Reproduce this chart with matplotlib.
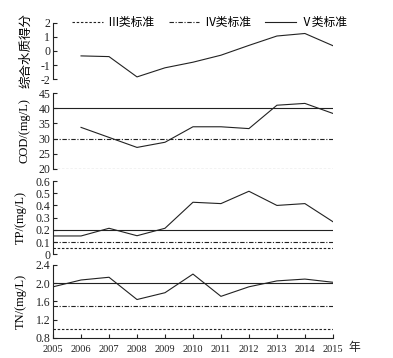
import numpy as np
import matplotlib.pyplot as plt

plt.rcParams['font.family'] = ['Liberation Serif', 'Noto Sans CJK SC']
plt.rcParams['axes.unicode_minus'] = False

years = list(range(2005, 2016))
score_years = list(range(2006, 2016))
score = [-0.35, -0.4, -1.85, -1.2, -0.8, -0.3, 0.4, 1.07, 1.25, 0.38]
cod_years = list(range(2006, 2016))
cod = [33.7, 30.4, 27.1, 28.8, 33.9, 33.9, 33.3, 41.0, 41.6, 38.3]
tp = [0.15, 0.15, 0.213, 0.152, 0.213, 0.426, 0.415, 0.516, 0.40, 0.415, 0.267]
tn = [1.92, 2.07, 2.13, 1.64, 1.79, 2.2, 1.71, 1.92, 2.05, 2.09, 2.02]

std_cod = [20, 30, 40]
std_tp = [0.05, 0.1, 0.2]
std_tn = [1.0, 1.5, 2.0]
std_names = ['Ⅲ类标准', 'Ⅳ类标准', 'Ⅴ类标准']
std_styles = [(0, (2.2, 1.6)), (0, (4, 1.5, 1, 1.5)), '-']

col = '#222222'
lw = 0.8

fig = plt.figure(figsize=(3.93, 3.58), dpi=100)
L, R = 0.135, 0.847
boxes = [(0.7793, 0.9358), (0.528, 0.740), (0.2897, 0.4944), (0.0567, 0.2598)]
axs = [fig.add_axes([L, b, R - L, t - b]) for b, t in boxes]

for ax in axs:
    ax.set_xlim(2005, 2015)
    for s in ['top', 'right', 'bottom']:
        ax.spines[s].set_visible(False)
    ax.spines['left'].set_linewidth(lw)
    ax.spines['left'].set_color(col)
    ax.tick_params(direction='in', length=3, width=lw, colors=col, labelsize=8.5, pad=2)
    ax.tick_params(axis='x', bottom=False, labelbottom=False)

ax1, ax2, ax3, ax4 = axs
ax1.plot(score_years, score, color=col, lw=lw)
ax1.set_ylim(-2, 2)
ax1.set_yticks([-2, -1, 0, 1, 2])
ax1.set_ylabel('综合水质得分', fontsize=9, labelpad=6)
handles = [ax1.plot([], [], color=col, lw=lw, ls=ls)[0] for ls in std_styles]
ax1.legend(handles, std_names, ncol=3, frameon=False, loc='center',
           bbox_to_anchor=(0.56, 1.0), fontsize=8.5, handlelength=2.6,
           columnspacing=1.2, handletextpad=0.4, borderaxespad=0)

ax2.plot(cod_years, cod, color=col, lw=lw)
for v, ls in zip(std_cod, std_styles):
    ax2.axhline(v, color=col, lw=lw, ls=ls)
ax2.set_ylim(20, 45)
ax2.set_yticks(range(20, 46, 5))
ax2.set_ylabel('COD/(mg/L)', fontsize=9, labelpad=6)

ax3.plot(years, tp, color=col, lw=lw)
for v, ls in zip(std_tp, std_styles):
    ax3.axhline(v, color=col, lw=lw, ls=ls)
ax3.set_ylim(0, 0.6)
ax3.set_yticks(np.arange(0, 0.61, 0.1))
ax3.set_yticklabels(['0', '0.1', '0.2', '0.3', '0.4', '0.5', '0.6'])
ax3.set_ylabel('TP/(mg/L)', fontsize=9, labelpad=6)

ax4.plot(years, tn, color=col, lw=lw)
for v, ls in zip(std_tn, std_styles):
    ax4.axhline(v, color=col, lw=lw, ls=ls)
ax4.set_ylim(0.8, 2.4)
ax4.set_yticks([0.8, 1.2, 1.6, 2.0, 2.4])
ax4.set_yticklabels(['0.8', '1.2', '1.6', '2.0', '2.4'])
ax4.set_ylabel('TN/(mg/L)', fontsize=9, labelpad=6)
ax4.spines['bottom'].set_visible(True)
ax4.spines['bottom'].set_linewidth(lw)
ax4.spines['bottom'].set_color(col)
ax4.tick_params(axis='x', bottom=True, labelbottom=True, labelsize=7.5, pad=5)
ax4.set_xticks(years)
ax4.set_xticklabels([str(y) for y in years])
ax4.text(1.057, -0.06, '年', transform=ax4.transAxes, fontsize=8.5,
         va='top', ha='left', color=col)

fig.savefig('out.png', dpi=100)
